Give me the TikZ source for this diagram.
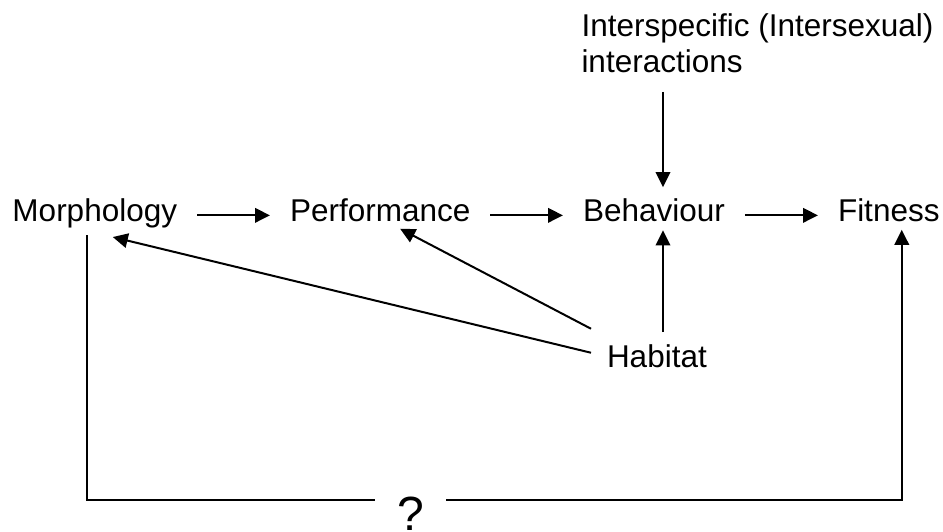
\documentclass[tikz,border=0pt]{standalone}
\usepackage{fontspec}
\setmainfont{Liberation Sans}
\usetikzlibrary{arrows.meta,calc}
\begin{document}
\begin{tikzpicture}[x=1pt,y=-1pt,
  lbl/.style={inner sep=0pt, outer sep=0pt, font=\fontsize{31.5}{36.5}\selectfont, anchor=base west},
  con/.style={line width=2pt, draw=black},
  arr/.style={con, -{Triangle[length=15pt,width=14.5pt]}},
  harr/.style={arr, shorten <=20pt, shorten >=20pt}]
\useasboundingbox (0,0) rectangle (943,531);
\fill[white] (0,0) rectangle (943,531);
\node[lbl] (morph) at (12.5,221) {Morphology};
\node[lbl] (perf) at (290,221) {Performance};
\node[lbl] (beh) at (583,221) {Behaviour};
\node[lbl] (fit) at (838,221) {Fitness};
\node[lbl] (hab) at (607,367) {Habitat};
\node[lbl, align=left] (inter) at (581.5,72.5) {Interspecific (Intersexual)\\interactions};
\node[inner sep=0pt, font=\fontsize{48}{50}\selectfont, anchor=base] (q) at (410.5,530) {?};
\coordinate (bx) at (663,0);
\coordinate (ql) at (375,500);
\coordinate (qr) at (446,500);
% main chain
\draw[harr] ([yshift=3pt]morph.mid east) -- ([yshift=3pt]perf.mid west);
\draw[harr] ([yshift=3pt]perf.mid east) -- ([yshift=3pt]beh.mid west);
\draw[harr] ([yshift=3pt]beh.mid east) -- ([yshift=3pt]fit.mid west);
% verticals
\draw[arr] ([yshift=-19pt]inter.south -| bx) -- ([yshift=11pt]beh.north -| bx);
\draw[arr] ([yshift=12pt]hab.north -| bx) -- ([yshift=-9pt]beh.south -| bx);
% habitat diagonals
\draw[arr] ([xshift=-16pt,yshift=3pt]hab.west) -- ([xshift=18pt,yshift=-9.5pt]morph.south);
\draw[arr] ([xshift=-16pt,yshift=27pt]hab.west) -- ([xshift=20pt,yshift=-7.5pt]perf.south);
% bottom loop
\draw[con] ([xshift=-8pt,yshift=-7.5pt]morph.south) |- (ql);
\draw[arr] (qr) -| ([xshift=13pt,yshift=-8.5pt]fit.south);
\end{tikzpicture}
\end{document}
